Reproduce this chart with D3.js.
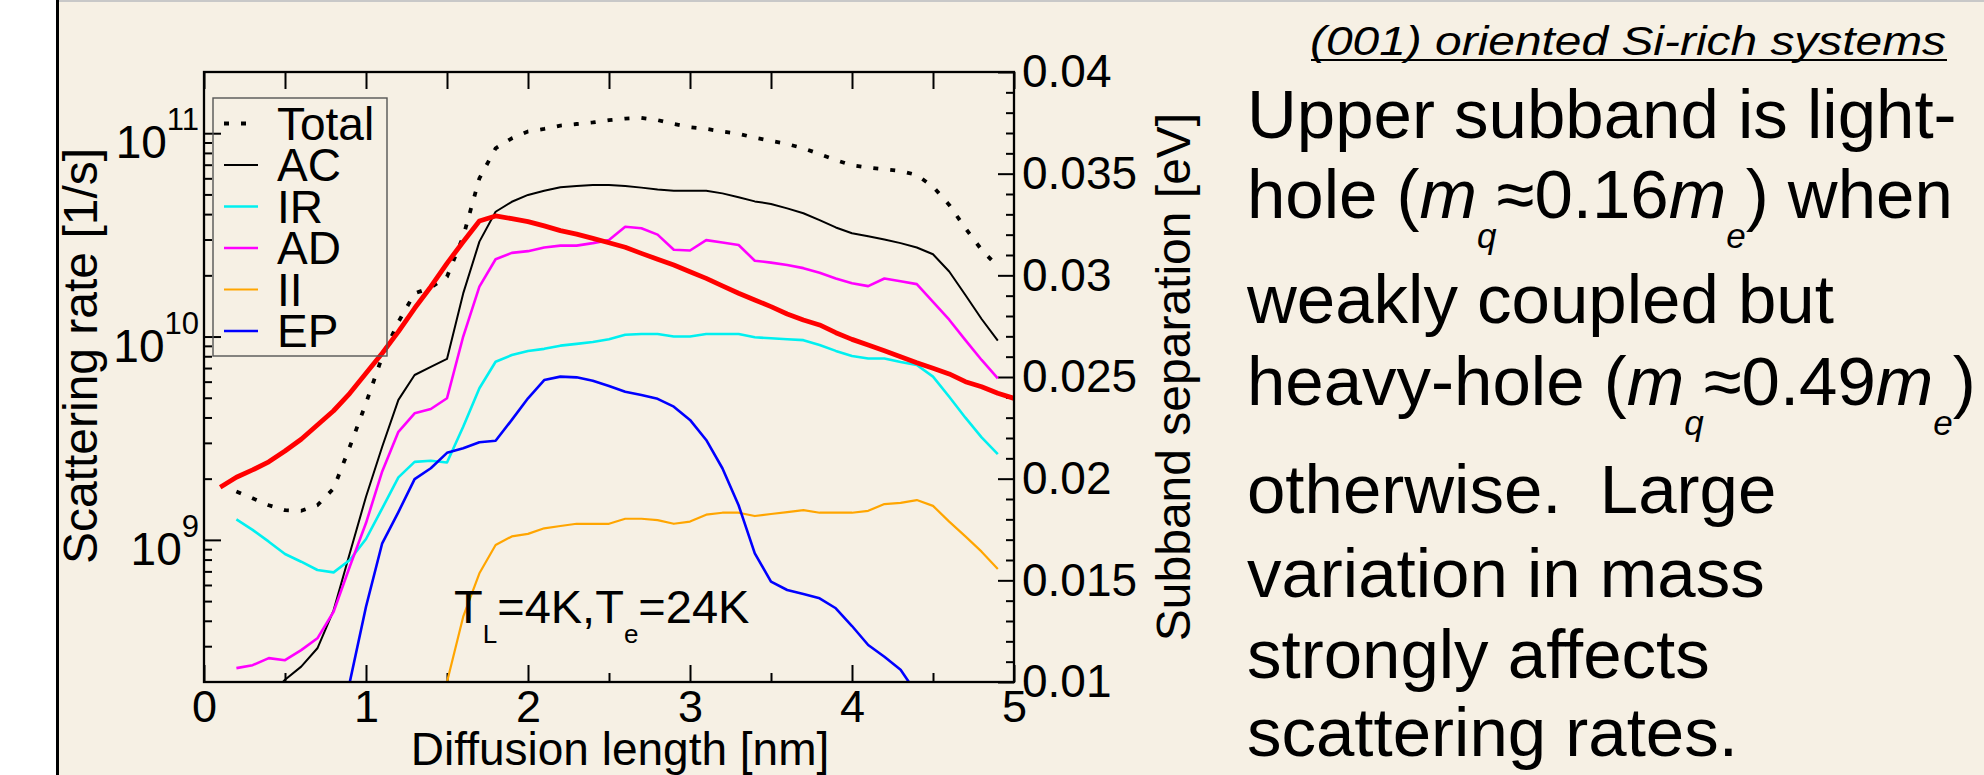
<!DOCTYPE html>
<html>
<head>
<meta charset="utf-8">
<script src="https://cdnjs.cloudflare.com/ajax/libs/d3/7.8.5/d3.min.js"></script>
<style>
  body { margin: 0; background: #fff; }
  svg { display: block; font-family: "Liberation Sans", Arial, Helvetica, sans-serif; }
</style>
</head>
<body>
<svg id="chart" width="1984" height="775"></svg>
<script>
// diffusion length [nm]
var lengths = [0.1, 0.2, 0.3, 0.4, 0.5, 0.6, 0.7, 0.8, 0.9, 1.0,
  1.1, 1.2, 1.3, 1.4, 1.5, 1.6, 1.7, 1.8, 1.9, 2.0,
  2.1, 2.2, 2.3, 2.4, 2.5, 2.6, 2.7, 2.8, 2.9, 3.0,
  3.1, 3.2, 3.3, 3.4, 3.5, 3.6, 3.7, 3.8, 3.9, 4.0,
  4.1, 4.2, 4.3, 4.4, 4.5, 4.6, 4.7, 4.8, 4.9, 5.0];

// scattering rates [1/s]
var total = [null, 1.73e9, 1.6e9, 1.48e9, 1.40e9, 1.39e9, 1.48e9, 1.79e9, 2.87e9, 4.7e9,
  7.96e9, 1.18e10, 1.63e10, 1.74e10, 1.97e10, 3.1e10, 6.0e10, 8.43e10, 9.44e10, 1.02e11,
  1.05e11, 1.09e11, 1.11e11, 1.13e11, 1.16e11, 1.18e11, 1.19e11, 1.16e11, 1.11e11, 1.07e11,
  1.05e11, 1.02e11, 9.94e10, 9.5e10, 9.16e10, 8.85e10, 8.43e10, 7.9e10, 7.38e10, 6.95e10,
  6.77e10, 6.65e10, 6.52e10, 6.23e10, 5.46e10, 4.44e10, 3.41e10, 2.67e10, 2.21e10, null];
var ac = [null, null, null, 1.7e8, 2.05e8, 2.38e8, 2.93e8, 4.5e8, 8.6e8, 1.63e9,
  2.87e9, 4.88e9, 6.47e9, 7.1e9, 7.76e9, 1.63e10, 2.93e10, 4.11e10, 4.6e10, 4.97e10,
  5.21e10, 5.42e10, 5.5e10, 5.56e10, 5.56e10, 5.5e10, 5.4e10, 5.28e10, 5.21e10, 5.21e10,
  5.21e10, 5.06e10, 4.84e10, 4.62e10, 4.49e10, 4.27e10, 4.04e10, 3.74e10, 3.44e10, 3.22e10,
  3.11e10, 3.0e10, 2.88e10, 2.74e10, 2.54e10, 2.09e10, 1.6e10, 1.22e10, 9.54e9, null];
var ir = [null, 1.26e9, 1.12e9, 9.8e8, 8.52e8, 7.81e8, 7.11e8, 6.92e8, 7.96e8, 1.01e9,
  1.43e9, 2.03e9, 2.42e9, 2.45e9, 2.4e9, 3.6e9, 5.57e9, 7.52e9, 8.11e9, 8.49e9,
  8.7e9, 9.02e9, 9.2e9, 9.4e9, 9.7e9, 1.02e10, 1.03e10, 1.03e10, 1.0e10, 1.0e10,
  1.03e10, 1.03e10, 1.03e10, 9.92e9, 9.8e9, 9.7e9, 9.6e9, 9.09e9, 8.5e9, 8.02e9,
  7.8e9, 7.8e9, 7.5e9, 7.25e9, 6.35e9, 5.06e9, 3.99e9, 3.19e9, 2.64e9, null];
var ad = [null, 2.34e8, 2.42e8, 2.62e8, 2.56e8, 2.87e8, 3.28e8, 4.43e8, 7.4e8, 1.21e9,
  2.17e9, 3.4e9, 4.19e9, 4.4e9, 4.97e9, 1.0e10, 1.76e10, 2.4e10, 2.58e10, 2.63e10,
  2.74e10, 2.8e10, 2.8e10, 2.88e10, 2.98e10, 3.47e10, 3.41e10, 3.17e10, 2.67e10, 2.65e10,
  2.98e10, 2.9e10, 2.82e10, 2.36e10, 2.31e10, 2.25e10, 2.17e10, 2.06e10, 1.93e10, 1.83e10,
  1.77e10, 1.93e10, 1.87e10, 1.81e10, 1.48e10, 1.21e10, 9.6e9, 7.67e9, 6.23e9, null];
var ii = [null, null, null, null, null, null, null, null, null, null,
  null, null, null, null, 2.0e8, 4.19e8, 6.85e8, 9.44e8, 1.04e9, 1.07e9,
  1.14e9, 1.17e9, 1.2e9, 1.2e9, 1.2e9, 1.27e9, 1.27e9, 1.25e9, 1.2e9, 1.23e9,
  1.33e9, 1.36e9, 1.36e9, 1.31e9, 1.34e9, 1.37e9, 1.4e9, 1.36e9, 1.36e9, 1.36e9,
  1.39e9, 1.5e9, 1.52e9, 1.57e9, 1.47e9, 1.23e9, 1.04e9, 8.75e8, 7.19e8, null];
var ep = [null, null, null, null, null, null, null, null, 2.0e8, 4.69e8,
  9.62e8, 1.37e9, 1.99e9, 2.25e9, 2.68e9, 2.82e9, 3.02e9, 3.07e9, 3.89e9, 4.97e9,
  6.11e9, 6.35e9, 6.3e9, 6.06e9, 5.71e9, 5.35e9, 5.16e9, 4.94e9, 4.52e9, 3.89e9,
  3.1e9, 2.25e9, 1.48e9, 8.59e8, 6.23e8, 5.67e8, 5.42e8, 5.16e8, 4.61e8, 3.77e8,
  3.04e8, 2.66e8, 2.3e8, 1.75e8, null, null, null, null, null, null];

// subband separation [eV], right axis
var subband = [0.01958, 0.02007, 0.02043, 0.02083, 0.02136, 0.02194, 0.02264, 0.02334, 0.0242, 0.02518,
  0.02617, 0.02723, 0.02838, 0.02944, 0.03059, 0.03165, 0.03267, 0.03292, 0.03279, 0.03264,
  0.03243, 0.0322, 0.03203, 0.03182, 0.0316, 0.03138, 0.03108, 0.03079, 0.03051, 0.03018,
  0.02985, 0.02948, 0.02912, 0.02879, 0.02846, 0.0281, 0.0278, 0.02756, 0.02718, 0.02685,
  0.02657, 0.02629, 0.026, 0.0257, 0.02543, 0.02515, 0.02477, 0.02452, 0.0242, 0.02395];

var seriesNames = ["Total", "AC", "IR", "AD", "II", "EP"];
var seriesData = [total, ac, ir, ad, ii, ep];

// ticks
var xMajor = [0, 1, 2, 3, 4, 5];
var xMinor = [0.5, 1.5, 2.5, 3.5, 4.5];
var xTop = [0, 0.5, 1, 1.5, 2, 2.5, 3, 3.5, 4, 4.5, 5];
var rateDecades = [9, 10, 11];
var rateMinor = [3e8, 4e8, 5e8, 6e8, 7e8, 8e8, 9e8,
  2e9, 3e9, 4e9, 5e9, 6e9, 7e9, 8e9, 9e9,
  2e10, 3e10, 4e10, 5e10, 6e10, 7e10, 8e10, 9e10];
var sepTicks = [0.01, 0.015, 0.02, 0.025, 0.03, 0.035, 0.04];
var sepTickLabels = ["0.01", "0.015", "0.02", "0.025", "0.03", "0.035", "0.04"];
var sepMinor = [0.011, 0.012, 0.013, 0.014, 0.016, 0.017, 0.018, 0.019,
  0.021, 0.022, 0.023, 0.024, 0.026, 0.027, 0.028, 0.029,
  0.031, 0.032, 0.033, 0.034, 0.036, 0.037, 0.038, 0.039];

// styles
var seriesColors = ["#000", "#000", "#00f0f0", "#ff00ff", "#ffa500", "#0000ff"];
var seriesWidths = [3.8, 2, 2.6, 2.6, 2.2, 2.6];
var seriesDash = ["5,12", null, null, null, null, null];

var bodyLines = [
  [["Upper subband is light-"]],
  [["hole ("], ["m", "i"], ["q", "sub"], ["\u22480.16"], ["m", "i"], ["e", "sub"], [") when"]],
  [["weakly coupled but"]],
  [["heavy-hole ("], ["m", "i"], ["q", "sub"], ["\u22480.49"], ["m", "i"], ["e", "sub"], [")"]],
  [["otherwise.  Large"]],
  [["variation in mass"]],
  [["strongly affects"]],
  [["scattering rates."]]
];
var bodyBaselines = [138, 218, 323, 405, 513, 597, 678, 756];

var plotL = 204, plotR = 1014, plotT = 72, plotB = 682;

var svg = d3.select("#chart");

// slide background
svg.append("rect").attr("x", 57).attr("y", 0).attr("width", 1927).attr("height", 775).attr("fill", "#f6f0e4");
svg.append("line").attr("x1", 57).attr("x2", 1984).attr("y1", 1).attr("y2", 1)
  .attr("stroke", "#c8c8c8").attr("stroke-width", 2);
svg.append("line").attr("x1", 57.5).attr("x2", 57.5).attr("y1", 0).attr("y2", 775)
  .attr("stroke", "#000").attr("stroke-width", 3);

var xScale = d3.scaleLinear().domain([0, 5]).range([plotL, plotR]);
var yRate = d3.scaleLog().domain([2e8, 2e11]).range([plotB, plotT]);
var ySep = d3.scaleLinear().domain([0.01, 0.04]).range([plotB, plotT]);

svg.append("clipPath").attr("id", "plotclip")
  .append("rect").attr("x", plotL).attr("y", plotT).attr("width", plotR - plotL).attr("height", plotB - plotT);

function tidy(g, size) {
  g.attr("font-family", null).attr("font-size", size);
  g.select(".domain").remove();
  g.selectAll(".tick line").attr("stroke", "#000").attr("stroke-width", 2);
  g.selectAll(".tick text").attr("fill", "#000");
}

// axes
svg.append("g").attr("transform", "translate(0," + plotB + ")")
  .call(d3.axisBottom(xScale).tickValues(xMajor).tickSizeInner(-17).tickSizeOuter(0).tickPadding(8).tickFormat(d3.format("d")))
  .call(tidy, 45);
svg.append("g").attr("transform", "translate(0," + plotB + ")")
  .call(d3.axisBottom(xScale).tickValues(xMinor).tickSizeInner(-9).tickSizeOuter(0).tickFormat(""))
  .call(tidy, 45);
svg.append("g").attr("transform", "translate(0," + plotT + ")")
  .call(d3.axisTop(xScale).tickValues(xTop).tickSizeInner(-17).tickSizeOuter(0).tickFormat(""))
  .call(tidy, 45);
svg.append("g").attr("transform", "translate(" + plotL + ",0)")
  .call(d3.axisLeft(yRate).tickValues(rateDecades.map(function(e) { return Math.pow(10, e); }))
    .tickSizeInner(-17).tickSizeOuter(0).tickFormat(""))
  .call(tidy, 45);
svg.append("g").attr("transform", "translate(" + plotL + ",0)")
  .call(d3.axisLeft(yRate).tickValues(rateMinor).tickSizeInner(-8).tickSizeOuter(0).tickFormat(""))
  .call(tidy, 45);
svg.append("g").attr("transform", "translate(" + plotR + ",0)")
  .call(d3.axisRight(ySep).tickValues(sepTicks).tickSizeInner(-16).tickSizeOuter(0).tickPadding(8)
    .tickFormat(function(d, i) { return sepTickLabels[i]; }))
  .call(tidy, 46);
svg.append("g").attr("transform", "translate(" + plotR + ",0)")
  .call(d3.axisRight(ySep).tickValues(sepMinor).tickSizeInner(-8).tickSizeOuter(0).tickFormat(""))
  .call(tidy, 46);

// log labels 10^n
rateDecades.forEach(function(e) {
  var t = svg.append("text").attr("x", 199).attr("y", yRate(Math.pow(10, e)) + 25)
    .attr("text-anchor", "end").attr("fill", "#000");
  t.append("tspan").attr("font-size", 46).text("10");
  t.append("tspan").attr("font-size", 31).attr("dy", -28).text(e);
});

// curves
var plot = svg.append("g").attr("clip-path", "url(#plotclip)");
seriesData.forEach(function(vals, k) {
  var line = d3.line()
    .defined(function(d, i) { return vals[i] != null; })
    .x(function(d) { return xScale(d); })
    .y(function(d, i) { return yRate(vals[i]); });
  plot.append("path").attr("d", line(lengths))
    .attr("fill", "none").attr("stroke", seriesColors[k]).attr("stroke-width", seriesWidths[k])
    .attr("stroke-dasharray", seriesDash[k]).attr("stroke-linejoin", "round");
});
var sepLine = d3.line()
  .x(function(d) { return xScale(d); })
  .y(function(d, i) { return ySep(subband[i]); });
plot.append("path").attr("d", sepLine(lengths))
  .attr("fill", "none").attr("stroke", "#ff0000").attr("stroke-width", 4.8).attr("stroke-linejoin", "round");

// frame
svg.append("rect").attr("x", plotL).attr("y", plotT).attr("width", plotR - plotL).attr("height", plotB - plotT)
  .attr("fill", "none").attr("stroke", "#000").attr("stroke-width", 2.3);

// legend
svg.append("rect").attr("x", 213).attr("y", 98).attr("width", 174).attr("height", 258)
  .attr("fill", "none").attr("stroke", "#555").attr("stroke-width", 1.4);
seriesNames.forEach(function(name, k) {
  var ly = 123.5 + k * 41.5;
  svg.append("line").attr("x1", 224).attr("x2", k === 0 ? 255 : 258).attr("y1", ly).attr("y2", ly)
    .attr("stroke", seriesColors[k]).attr("stroke-width", seriesWidths[k]).attr("stroke-dasharray", seriesDash[k]);
  svg.append("text").attr("x", 277).attr("y", ly + 16).attr("font-size", 46).attr("fill", "#000").text(name);
});

// annotation
var ann = svg.append("text").attr("x", 454).attr("y", 623).attr("font-size", 47).attr("fill", "#000");
ann.append("tspan").text("T");
ann.append("tspan").attr("font-size", 26).attr("dy", 20).text("L");
ann.append("tspan").attr("dy", -20).text("=4K,T");
ann.append("tspan").attr("font-size", 26).attr("dy", 20).text("e");
ann.append("tspan").attr("dy", -20).text("=24K");

// axis titles
svg.append("text").attr("x", 620).attr("y", 765).attr("text-anchor", "middle")
  .attr("font-size", 46).attr("fill", "#000").text("Diffusion length [nm]");
svg.append("text").attr("transform", "translate(97,356) rotate(-90)").attr("text-anchor", "middle")
  .attr("font-size", 48).attr("fill", "#000").text("Scattering rate [1/s]");
svg.append("text").attr("transform", "translate(1190,377) rotate(-90)").attr("text-anchor", "middle")
  .attr("font-size", 48).attr("fill", "#000").text("Subband separation [eV]");

// slide text
svg.append("text").attr("x", 1310).attr("y", 55).attr("font-size", 41).attr("font-style", "italic")
  .attr("textLength", 636).attr("lengthAdjust", "spacingAndGlyphs").attr("fill", "#000")
  .text("(001) oriented Si-rich systems");
svg.append("line").attr("x1", 1311).attr("x2", 1947).attr("y1", 60).attr("y2", 60)
  .attr("stroke", "#000").attr("stroke-width", 2);

var body = svg.append("g").attr("font-size", 69).attr("fill", "#000");
bodyLines.forEach(function(segs, li) {
  var t = body.append("text").attr("x", 1247).attr("y", bodyBaselines[li])
    .attr("xml:space", "preserve").style("white-space", "pre");
  var shift = 0;
  segs.forEach(function(s) {
    var ts = t.append("tspan").text(s[0]);
    var want = s[1] === "sub" ? 30 : 0;
    if (want !== shift) { ts.attr("dy", want - shift); shift = want; }
    if (s[1] === "i" || s[1] === "sub") ts.attr("font-style", "italic");
    if (s[1] === "sub") ts.attr("font-size", 35);
  });
});
</script>
</body>
</html>
